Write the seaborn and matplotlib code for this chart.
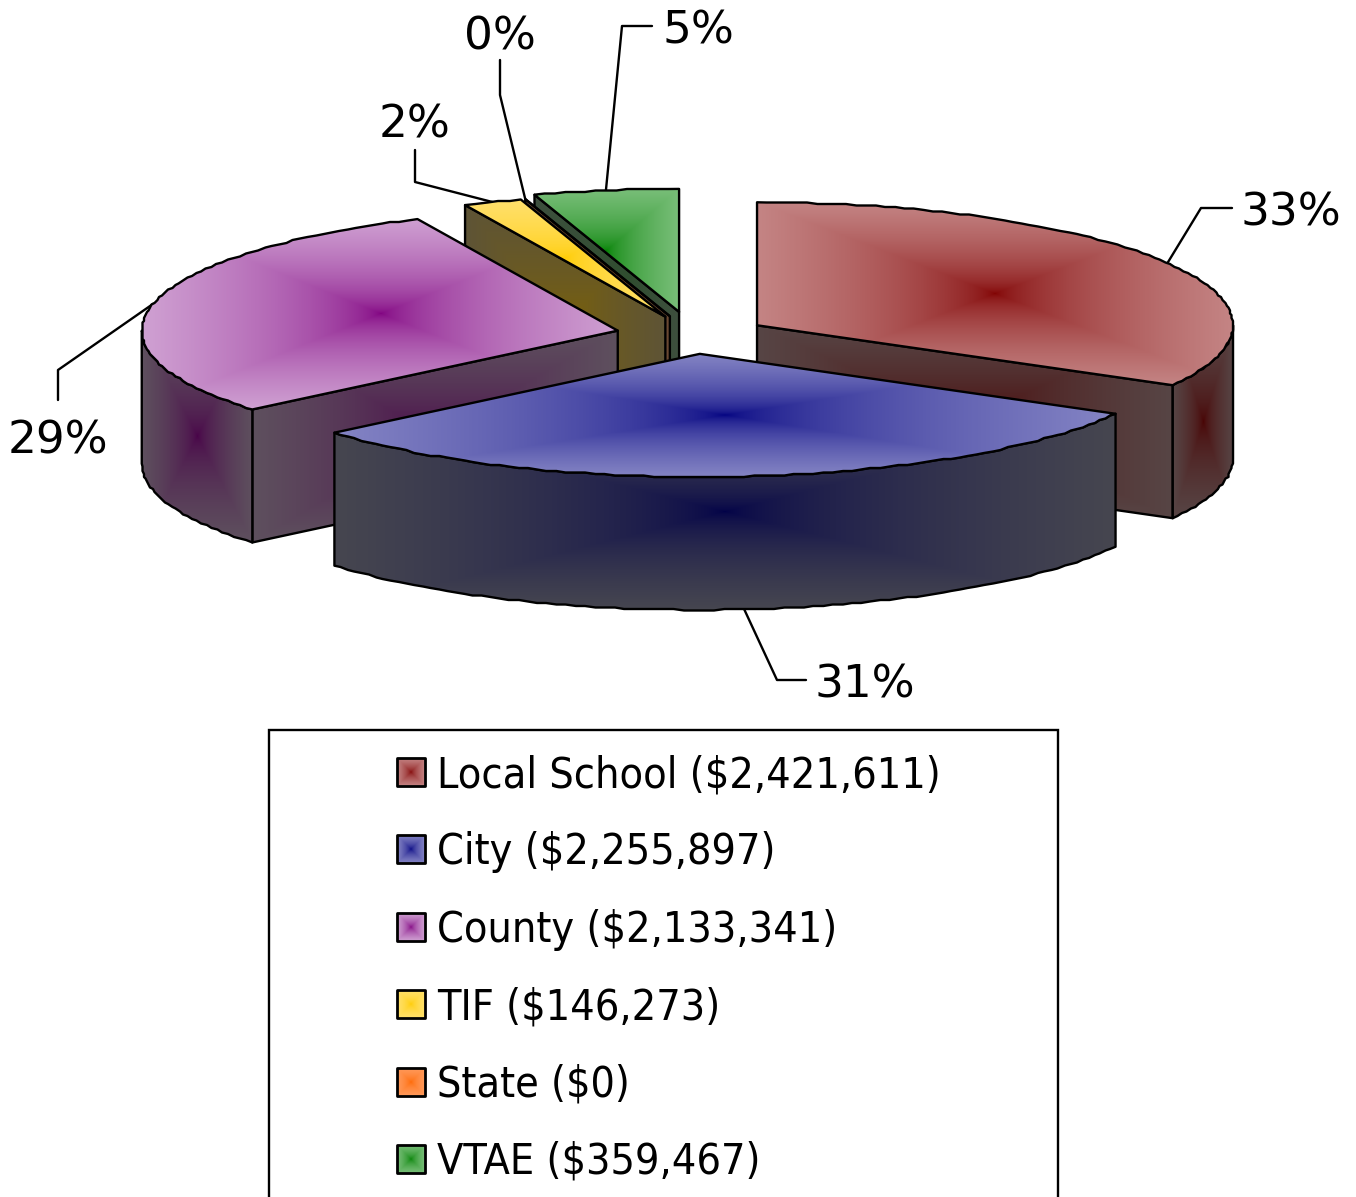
import numpy as np
import matplotlib
matplotlib.use("Agg")
import matplotlib.pyplot as plt
from matplotlib.patches import Polygon, Rectangle
import seaborn as sns

# Revenue shares by taxing body
names = ["Local School", "City", "County", "TIF", "State", "VTAE"]
amounts = [2421611, 2255897, 2133341, 146273, 0, 359467]
explode = [0.156, 0.154, 0.162, 0.160, 0.160, 0.190]

# Face shading: gradient centre and rim for the lid and the walls of each slice
lid_centres = ["#800000", "#000080", "#800080", "#FFCC00", "#FF6600", "#008000"]
lid_rims = ["#C48484", "#8484C4", "#CFA0D2", "#FFE06C", "#FF9A5C", "#78BE78"]
wall_centres = ["#480000", "#000048", "#480048", "#806400", "#7A3A10", "#1E4A1E"]
wall_rims = ["#574545", "#464650", "#5E505E", "#5E5436", "#6A4A34", "#3E503E"]

# Pie geometry in pixels
W, H = 1356, 1197
CX, CY = 693, 335
RX, RY = 476, 123
DEPTH = 133
EDGE = 1.7
GRADIENT_POWER = 0.55

# Leader elbows and label anchors, keyed to the slice order above
elbows = [[(1201, 208), (1232, 208)], [(777, 680), (806, 680)], [(58, 370), (58, 400)],
          [(415, 182), (415, 150)], [(500, 95), (500, 60)], [(622, 26), (652, 26)]]
label_pos = [(1240, 209, "left"), (814, 681, "left"), (58, 437, "center"),
             (415, 121, "center"), (500, 32, "center"), (662, 27, "left")]

sns.set_theme(style="white")
plt.rcParams["font.family"] = ["DejaVu Sans"]

fig = plt.figure(figsize=(W / 100, H / 100), dpi=100)
ax = fig.add_axes([0, 0, 1, 1])
ax.set_xlim(0, W)
ax.set_ylim(H, 0)
ax.set_autoscale_on(False)
ax.axis("off")

ramp = np.linspace(-1, 1, 241)
U, V = np.meshgrid(ramp, ramp)
RECT_FIELD = np.maximum(np.abs(U), np.abs(V)) ** GRADIENT_POWER
z = [10]


def shaded_polygon(points, centre, rim, lw=EDGE):
    """Fill a polygon with a rectangular gradient over its bounding box."""
    pts = np.asarray(points, dtype=float)
    x0, y0 = pts.min(axis=0)
    x1, y1 = pts.max(axis=0)
    cmap = sns.blend_palette([centre, rim], n_colors=64, as_cmap=True)
    z[0] += 1
    im = ax.imshow(RECT_FIELD, cmap=cmap, vmin=0, vmax=1, aspect="auto",
                   extent=(x0, max(x1, x0 + 1), max(y1, y0 + 1), y0),
                   interpolation="bilinear", zorder=z[0])
    outline = Polygon(pts, closed=True, facecolor="none", edgecolor="black",
                      linewidth=lw, joinstyle="round", zorder=z[0] + 0.5)
    ax.add_patch(outline)
    im.set_clip_path(outline)


def arc(apex, a0, a1, drop=0.0):
    """Sample the rim between two clock angles, snapped to a fine pixel grid."""
    n = max(2, int(abs(a1 - a0) / 1.2) + 1)
    t = np.radians(np.linspace(a0, a1, n))
    x = apex[0] + RX * np.sin(t)
    y = apex[1] - RY * np.cos(t) + drop
    x[1:-1] = np.round(x[1:-1] / 1.5) * 1.5
    y[1:-1] = np.round(y[1:-1] / 1.5) * 1.5
    return np.column_stack([x, y])


total = sum(amounts)
edges = np.concatenate([[0], np.cumsum(amounts) / total * 360])
mids = (edges[:-1] + edges[1:]) / 2
apexes = []
for m, e in zip(mids, explode):
    r = np.radians(m)
    apexes.append((CX + e * RX * np.sin(r), CY - e * RY * np.cos(r)))

# Paint from the back of the pie towards the viewer
order = sorted(range(len(names)), key=lambda i: -np.cos(np.radians(mids[i])))
for i in order:
    a0, a1 = edges[i], edges[i + 1]
    apex = apexes[i]
    lid = arc(apex, a0, a1)
    walls = []
    # cut faces turned towards the viewer
    if np.sin(np.radians(a0)) < -1e-6:
        walls.append(a0)
    if np.sin(np.radians(a1)) > 1e-6:
        walls.append(a1)
    for ang in walls:
        r = np.radians(ang)
        rim = (apex[0] + RX * np.sin(r), apex[1] - RY * np.cos(r))
        face = [apex, rim, (rim[0], rim[1] + DEPTH), (apex[0], apex[1] + DEPTH)]
        shaded_polygon(face, wall_centres[i], wall_rims[i])
    # outer rim on the near half of the ellipse
    lo, hi = max(a0, 90), min(a1, 270)
    if hi > lo:
        top = arc(apex, lo, hi)
        bottom = arc(apex, lo, hi, drop=DEPTH)[::-1]
        shaded_polygon(np.vstack([top, bottom]), wall_centres[i], wall_rims[i])
    shaded_polygon(np.vstack([[apex], lid]), lid_centres[i], lid_rims[i])

# Percentage labels with elbowed leaders
for i, name in enumerate(names):
    r = np.radians(mids[i])
    outer_drop = DEPTH if np.cos(r) < -0.5 else 0
    start = (apexes[i][0] + RX * np.sin(r), apexes[i][1] - RY * np.cos(r) + outer_drop)
    xs, ys = zip(start, *elbows[i])
    ax.plot(xs, ys, color="black", lw=EDGE, solid_joinstyle="round", zorder=5)
    lx, ly, ha = label_pos[i]
    ax.text(lx, ly, f"{amounts[i] / total:.0%}", fontsize=32.6, color="black",
            ha=ha, va="center_baseline", zorder=100)

# Legend panel runs off the bottom of the figure
ax.add_patch(Rectangle((269, 730), 789, 520, facecolor="white", edgecolor="black",
                       linewidth=EDGE, zorder=200))
for i, name in enumerate(names):
    yc = 772 + i * 77.4
    sq = [(397, yc - 14), (425, yc - 14), (425, yc + 14), (397, yc + 14)]
    z[0] = 210 + 2 * i
    shaded_polygon(sq, lid_centres[i], lid_rims[i], lw=2.0)
    ax.text(437, yc - 1.5, f"{name} (${amounts[i]:,})", fontsize=30.9, stretch="condensed",
            color="black", ha="left", va="center_baseline", zorder=240)

fig.savefig("out.png", dpi=100, facecolor="white")
